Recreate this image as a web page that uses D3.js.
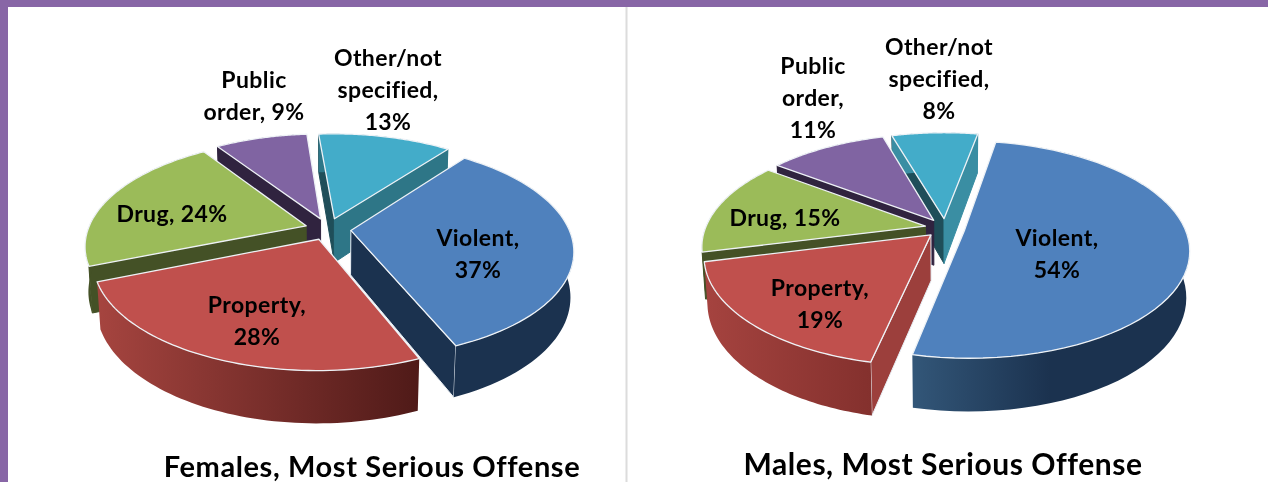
<!DOCTYPE html>
<html>
<head>
<meta charset="utf-8">
<script src="https://cdn.jsdelivr.net/npm/d3@7"></script>
<style>
    html, body { margin: 0; padding: 0; background: #fff; overflow: hidden; }
    svg { display: block; filter: blur(0.45px); }
    text { font-family: Lato, "Noto Sans", sans-serif; font-weight: 700; fill: #000; text-anchor: middle; }
</style>
</head>
<body>
<script>
var categories = ["Violent", "Property", "Drug", "Public order", "Other/not specified"];
var femaleValues = [37, 28, 24, 9, 13];
var maleValues = [54, 19, 15, 11, 8];
var femaleTitle = "Females, Most Serious Offense";
var maleTitle = "Males, Most Serious Offense";
var femaleLabelLines = [["Violent,", "37%"], ["Property,", "28%"], ["Drug, 24%"], ["Public", "order, 9%"], ["Other/not", "specified,", "13%"]];
var maleLabelLines = [["Violent,", "54%"], ["Property,", "19%"], ["Drug, 15%"], ["Public", "order,", "11%"], ["Other/not", "specified,", "8%"]];

var w = 1268;
var h = 482;

var topColors = ["#4f81bd", "#c0504d", "#9bbb59", "#8064a2", "#43acc9"];

var svg = d3.select("body").append("svg")
    .attr("width", w)
    .attr("height", h);
var defs = svg.append("defs");

// Window frame behind the two charts
svg.append("rect").attr("width", w).attr("height", h).attr("fill", "#fff");
svg.append("rect").attr("width", w).attr("height", 7).attr("fill", "#8866a6");
svg.append("rect").attr("width", 8).attr("height", h).attr("fill", "#8866a6");
svg.append("rect").attr("x", 625.5).attr("y", 7).attr("width", 2).attr("height", h).attr("fill", "#dcdcdc");

function drawPie(opts) {
    var R = opts.radius;
    var tilt = 0.475;
    var persp = 0.18;       // how much closer the front rim looks
    var zShrink = 0.0003;   // the bottom of the pie is a bit further away

    var slices = d3.pie().sort(null)
        .startAngle(opts.rotate)
        .endAngle(opts.rotate + 2 * Math.PI)(opts.values);

    var line = d3.line().x(function(d) { return d[0]; }).y(function(d) { return d[1]; });

    // world point (x right, y to the back, z down) to screen
    function project(x, y, z) {
        var s = 1 / (1 + persp * y / R + zShrink * z);
        return [opts.cx + x * s, opts.cy - tilt * y * s + z * s];
    }

    var g = svg.append("g");

    var items = slices.map(function(d, i) {
        var mid = (d.startAngle + d.endAngle) / 2;
        return {
            d: d,
            i: i,
            mid: mid,
            ox: opts.explode * Math.sin(mid),
            oy: opts.explode * Math.cos(mid)
        };
    });

    // Paint from the back of the pie to the front
    items.sort(function(a, b) { return b.oy - a.oy; });

    items.forEach(function(it) {
        var i = it.i;
        var angles = d3.range(0, 61).map(function(k) {
            return it.d.startAngle + (it.d.endAngle - it.d.startAngle) * k / 60;
        });
        function rim(z) {
            return angles.map(function(a) {
                return project(it.ox + R * Math.sin(a), it.oy + R * Math.cos(a), z);
            });
        }
        var apexTop = project(it.ox, it.oy, 0);
        var apexBottom = project(it.ox, it.oy, opts.depth);
        var rimTop = rim(0);
        var rimBottom = rim(opts.depth);
        var n = rimTop.length - 1;

        var style = opts.walls[i];

        // flat cut faces, only the ones turned towards the viewer
        if (Math.sin(it.d.startAngle) < 0) {
            g.append("path")
                .attr("d", line([apexTop, rimTop[0], rimBottom[0], apexBottom]) + "Z")
                .attr("fill", style.start)
                .attr("stroke", style.edge || style.start);
        }
        if (Math.sin(it.d.endAngle) > 0) {
            g.append("path")
                .attr("d", line([apexTop, rimTop[n], rimBottom[n], apexBottom]) + "Z")
                .attr("fill", style.end)
                .attr("stroke", style.edge || style.end);
        }

        // curved outer wall, with the shading running left to right
        var fill = style.rim[0];
        if (style.rim.length > 1) {
            var id = opts.id + "-rim-" + i;
            var grad = defs.append("linearGradient")
                .attr("id", id)
                .attr("gradientUnits", "userSpaceOnUse")
                .attr("x1", style.range[0]).attr("x2", style.range[1])
                .attr("y1", 0).attr("y2", 0);
            style.rim.forEach(function(c, j) {
                grad.append("stop")
                    .attr("offset", j / (style.rim.length - 1))
                    .attr("stop-color", c);
            });
            fill = "url(#" + id + ")";
        }
        g.append("path")
            .attr("d", line(rimTop.concat(rimBottom.slice().reverse())) + "Z")
            .attr("fill", fill);

        // top face
        g.append("path")
            .attr("d", line([apexTop].concat(rimTop)) + "Z")
            .attr("fill", topColors[i])
            .attr("stroke", "#eef2f6")
            .attr("stroke-width", 1.3)
            .attr("stroke-linejoin", "round");
    });

    // Data labels
    opts.labels.forEach(function(lines, i) {
        var t = svg.append("text")
            .attr("font-size", 23)
            .attr("letter-spacing", 0.4)
            .attr("x", opts.labelPos[i][0])
            .attr("y", opts.labelPos[i][1]);
        lines.forEach(function(s, j) {
            t.append("tspan")
                .attr("x", opts.labelPos[i][0])
                .attr("dy", j === 0 ? 0 : 32)
                .text(s);
        });
    });

    svg.append("text")
        .attr("x", opts.titlePos[0])
        .attr("y", opts.titlePos[1])
        .attr("font-size", opts.titleSize)
        .attr("letter-spacing", opts.titleSpacing)
        .text(opts.title);
}

drawPie({
    id: "female",
    values: femaleValues,
    labels: femaleLabelLines,
    title: femaleTitle,
    titlePos: [372, 477],
    titleSize: 29,
    titleSpacing: 0.6,
    cx: 328,
    cy: 229,
    radius: 218,
    explode: 23,
    depth: 45,
    rotate: 37.5 * Math.PI / 180,
    labelPos: [[478, 246], [257, 313], [172, 222], [254, 88], [388, 66]],
    walls: [
        { start: "#1b324f", end: "#1b324f", rim: ["#1b324f"], edge: "#e8eef4" },
        { start: "#a5443f", end: "#a5443f", rim: ["#a5443f", "#4f1a18"], range: [100, 420], edge: "#e8eef4" },
        { start: "#445126", end: "#445126", rim: ["#445126"] },
        { start: "#30233f", end: "#30233f", rim: ["#30233f"] },
        { start: "#1f4e59", end: "#2e7687", rim: ["#2e7687"] }
    ]
});

drawPie({
    id: "male",
    values: maleValues,
    labels: maleLabelLines,
    title: maleTitle,
    titlePos: [943, 475],
    titleSize: 30,
    titleSpacing: 0.55,
    cx: 945,
    cy: 228,
    radius: 220,
    explode: 20,
    depth: 46,
    rotate: 10.5 * Math.PI / 180,
    labelPos: [[1057, 246], [820, 296], [785, 226], [813, 74], [939, 55]],
    walls: [
        { start: "#1b324f", end: "#1b324f", rim: ["#335779", "#1b324f", "#1b324f"], range: [910, 1190] },
        { start: "#9c3f3c", end: "#9c3f3c", rim: ["#a5433f", "#83302d"], range: [706, 875], edge: "#e8eef4" },
        { start: "#445126", end: "#445126", rim: ["#445126"] },
        { start: "#30233f", end: "#30233f", rim: ["#30233f"] },
        { start: "#1f4e59", end: "#3a8ea3", rim: ["#3a8ea3"] }
    ]
});
</script>
</body>
</html>
